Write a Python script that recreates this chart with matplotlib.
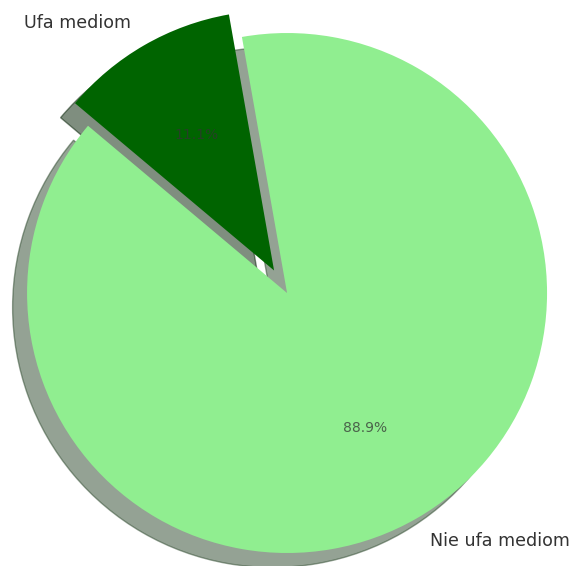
import matplotlib
matplotlib.use("Agg")
import matplotlib.pyplot as plt

labels = ["Ufa mediom", "Nie ufa mediom"]
shares = [11.1, 88.9]
colors = ["darkgreen", "lightgreen"]
explode = [0.1, 0]

fig = plt.figure(figsize=(5.71, 5.66), dpi=100)
ax = fig.add_axes([0, 0, 1, 1])

wedges, texts, autotexts = ax.pie(
    shares,
    labels=labels,
    colors=colors,
    explode=explode,
    autopct="%1.1f%%",
    startangle=100,
    shadow={"ox": -0.04, "oy": -0.04},
    textprops={"color": "#333333"},
)
for t in texts:
    t.set_fontsize(12.6)
for t in autotexts:
    t.set_fontsize(10)
    t.set_alpha(0.75)

ax.set_xlim(-1.104, 1.092)
ax.set_ylim(-1.05, 1.127)
ax.axis("off")

fig.savefig("out.png", dpi=100)
